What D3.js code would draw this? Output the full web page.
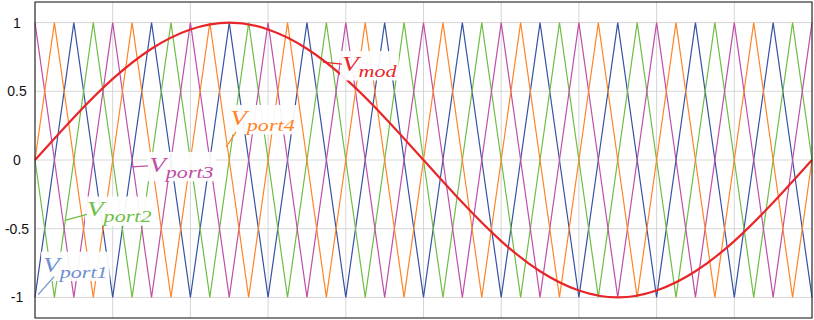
<!DOCTYPE html>
<html>
<head>
<meta charset="utf-8">
<script src="https://cdn.jsdelivr.net/npm/d3@7"></script>
<style>
  body { margin: 0; background: #fff; }
  .tick-label { font-family: "Liberation Sans", Arial, sans-serif; font-size: 14px; fill: #111; }
  .lbl { font-family: "Liberation Serif", "DejaVu Serif", serif; font-style: italic; }
</style>
</head>
<body>
<svg id="chart" width="814" height="320"></svg>
<script>
// time base: one fundamental period (20 ms), carrier vertices every quarter carrier period
var tEnd = 0.02;
var carrierStep = 0.0005;
var gridTimes = [0, 0.002, 0.004, 0.006, 0.008, 0.01, 0.012, 0.014, 0.016, 0.018, 0.02];
var yTicks = [1, 0.5, 0, -0.5, -1];
var yTickLabels = ["1", "0.5", "0", "-0.5", "-1"];

// carrier values at t = 0, 0.5 ms, 1 ms, ... 20 ms
var port1 = [-1,0,1,0, -1,0,1,0, -1,0,1,0, -1,0,1,0, -1,0,1,0, -1,0,1,0, -1,0,1,0, -1,0,1,0, -1,0,1,0, -1,0,1,0, -1];
var port2 = [0,-1,0,1, 0,-1,0,1, 0,-1,0,1, 0,-1,0,1, 0,-1,0,1, 0,-1,0,1, 0,-1,0,1, 0,-1,0,1, 0,-1,0,1, 0,-1,0,1, 0];
var port3 = [1,0,-1,0, 1,0,-1,0, 1,0,-1,0, 1,0,-1,0, 1,0,-1,0, 1,0,-1,0, 1,0,-1,0, 1,0,-1,0, 1,0,-1,0, 1,0,-1,0, 1];
var port4 = [0,1,0,-1, 0,1,0,-1, 0,1,0,-1, 0,1,0,-1, 0,1,0,-1, 0,1,0,-1, 0,1,0,-1, 0,1,0,-1, 0,1,0,-1, 0,1,0,-1, 0];

// modulating wave read every 1 ms
var modStep = 0.001;
var vmod = [0, 0.31, 0.59, 0.81, 0.95, 1, 0.95, 0.81, 0.59, 0.31, 0,
            -0.31, -0.59, -0.81, -0.95, -1, -0.95, -0.81, -0.59, -0.31, 0];

var carriers = [
    {name: "port1", values: port1, color: "#3652a3"},
    {name: "port2", values: port2, color: "#6fbe44"},
    {name: "port3", values: port3, color: "#bf4fa6"},
    {name: "port4", values: port4, color: "#ff8426"}
];

// annotations: anchor on the curve (t, v), leader end and text origin in pixels from anchor
var labels = [
    {sub: "port1", color: "#6f8fcf", t: 0.00008, v: -0.98, lx: 16, ly: -18, tx: 5, ty: -23},
    {sub: "port2", color: "#6fbe44", t: 0.00077, v: -0.44, lx: 22, ly: -6, tx: 22, ty: -4},
    {sub: "port3", color: "#bf4fa6", t: 0.0025, v: -0.05, lx: 16, ly: -1, tx: 17, ty: 5},
    {sub: "port4", color: "#ff8426", t: 0.00492, v: 0.095, lx: 10, ly: -15, tx: 4, ty: -22},
    {sub: "mod", color: "#e8262a", t: 0.00741, v: 0.713, lx: 19, ly: 2, tx: 19, ty: 9}
];

var svg = d3.select("#chart");
var margin = {left: 35, right: 2, top: 2, bottom: 2};
var width = 814, height = 320;

var x = d3.scaleLinear().domain([0, tEnd]).range([margin.left, width - margin.right]);
var y = d3.scaleLinear().domain([-1.15, 1.15]).range([height - margin.bottom, margin.top]);

// grid
svg.append("g").selectAll("line.vg")
    .data(gridTimes)
    .enter().append("line")
    .attr("x1", function(d) { return x(d); })
    .attr("x2", function(d) { return x(d); })
    .attr("y1", y.range()[0])
    .attr("y2", y.range()[1])
    .attr("stroke", "#d6d6d6")
    .attr("stroke-width", 1);

svg.append("g").selectAll("line.hg")
    .data(yTicks)
    .enter().append("line")
    .attr("x1", x.range()[0])
    .attr("x2", x.range()[1])
    .attr("y1", function(d) { return y(d); })
    .attr("y2", function(d) { return y(d); })
    .attr("stroke", "#d6d6d6")
    .attr("stroke-width", 1);

svg.append("g").selectAll("text")
    .data(yTicks)
    .enter().append("text")
    .attr("class", "tick-label")
    .attr("x", 17)
    .attr("y", function(d) { return y(d); })
    .attr("dy", "0.36em")
    .attr("text-anchor", "middle")
    .text(function(d, i) { return yTickLabels[i]; });

// carriers
var carrierLine = d3.line()
    .x(function(d, i) { return x(i * carrierStep); })
    .y(function(d) { return y(d); });

svg.append("g").selectAll("path")
    .data(carriers)
    .enter().append("path")
    .attr("d", function(d) { return carrierLine(d.values); })
    .attr("fill", "none")
    .attr("stroke", function(d) { return d.color; })
    .attr("stroke-width", 1.2);

// modulating wave
var modLine = d3.line()
    .x(function(d, i) { return x(i * modStep); })
    .y(function(d) { return y(d); })
    .curve(d3.curveNatural);

svg.append("path")
    .attr("d", modLine(vmod))
    .attr("fill", "none")
    .attr("stroke", "#e8262a")
    .attr("stroke-width", 2.2);

// frame
svg.append("rect")
    .attr("x", x.range()[0])
    .attr("y", y.range()[1])
    .attr("width", x.range()[1] - x.range()[0])
    .attr("height", y.range()[0] - y.range()[1])
    .attr("fill", "none")
    .attr("stroke", "#333")
    .attr("stroke-width", 1.2);

// labels (math-style, a bit wide like the original typesetting)
labels.forEach(function(l) {
    var ax = x(l.t), ay = y(l.v);
    var g = svg.append("g");
    var tg = g.append("g")
        .attr("transform", "translate(" + (ax + l.tx) + "," + (ay + l.ty) + ") scale(1.3,1)");
    var box = tg.append("rect").attr("fill", "white").attr("opacity", 0.92);
    var txt = tg.append("text")
        .attr("class", "lbl")
        .attr("x", 0)
        .attr("y", 0)
        .attr("fill", l.color);
    txt.append("tspan").attr("font-size", "21px").text("V");
    txt.append("tspan").attr("font-size", "17px").attr("dy", 6).text(l.sub);
    var bb = txt.node().getBBox();
    box.attr("x", bb.x - 1.5).attr("y", bb.y - 1)
        .attr("width", bb.width + 3).attr("height", bb.height + 1);
    g.append("line")
        .attr("x1", ax).attr("y1", ay)
        .attr("x2", ax + l.lx).attr("y2", ay + l.ly)
        .attr("stroke", l.color)
        .attr("stroke-width", 1.2);
});
</script>
</body>
</html>
